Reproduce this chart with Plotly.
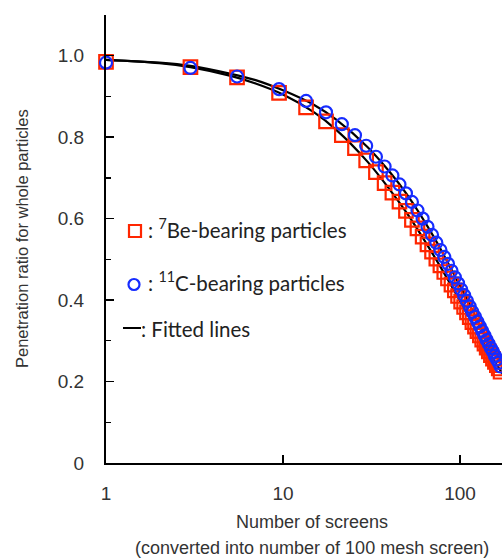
import plotly.graph_objects as go

# Number of screens (converted into number of 100 mesh screen)
screens = [1, 3, 5.5, 9.5, 13.5, 17.5, 21.5, 25.5, 29.5, 33.5, 37.5, 41.5, 45.5,
           49.5, 53.5, 57.5, 61.5, 65.5, 69.5, 73.5, 77.5, 81.5, 85.5, 89.5, 93.5,
           97.5, 101.5, 105.5, 109.5, 113.5, 117.5, 121.5, 125.5, 129.5, 133.5,
           137.5, 141.5, 145.5, 149.5, 153.5, 157.5, 161.5, 165.5, 169.5]

# 7Be-bearing particles
be_ratio = [0.985, 0.972, 0.947, 0.909, 0.873, 0.839, 0.805, 0.773, 0.743, 0.714,
            0.687, 0.664, 0.642, 0.619, 0.597, 0.576, 0.556, 0.537, 0.519, 0.502,
            0.485, 0.469, 0.453, 0.438, 0.424, 0.410, 0.396, 0.383, 0.370, 0.358,
            0.346, 0.335, 0.324, 0.313, 0.303, 0.293, 0.283, 0.274, 0.265, 0.256,
            0.248, 0.240, 0.232, 0.224]

# 11C-bearing particles
c_ratio = [0.983, 0.970, 0.949, 0.918, 0.889, 0.861, 0.832, 0.805, 0.779, 0.752,
           0.728, 0.706, 0.684, 0.662, 0.641, 0.620, 0.600, 0.580, 0.560, 0.541,
           0.523, 0.506, 0.489, 0.472, 0.456, 0.441, 0.426, 0.412, 0.398, 0.384,
           0.371, 0.359, 0.347, 0.335, 0.324, 0.313, 0.302, 0.292, 0.282, 0.273,
           0.263, 0.254, 0.246, 0.237]

# Fitted lines
fit_x = [1, 2, 3, 5, 7, 10, 15, 20, 30, 40, 50, 70, 100, 130, 175]
fit_be = [0.990, 0.982, 0.972, 0.951, 0.932, 0.905, 0.861, 0.818, 0.740, 0.672,
          0.614, 0.514, 0.398, 0.308, 0.217]
fit_c = [0.990, 0.983, 0.975, 0.956, 0.940, 0.915, 0.879, 0.843, 0.776, 0.715,
         0.660, 0.560, 0.435, 0.337, 0.234]

y_ticks = [0, 0.2, 0.4, 0.6, 0.8, 1.0]
y_ticktext = ["0", "0.2", "0.4", "0.6", "0.8", "1.0"]
x_ticks = [1, 10, 100]
x_ticktext = ["1", "10", "100"]

RED = "rgb(255,38,0)"
BLUE = "rgb(22,44,255)"
TICKFONT = dict(family="Liberation Sans, Arial, sans-serif", size=19, color="#333333")
TITLEFONT = dict(family="Liberation Sans, Arial, sans-serif", size=18, color="#333333")

fig = go.Figure()
for fy in (fit_be, fit_c):
    fig.add_trace(go.Scatter(x=fit_x, y=fy, mode="lines",
                             line=dict(color="black", width=2.2, shape="spline"),
                             showlegend=False, hoverinfo="skip"))
fig.add_trace(go.Scatter(x=screens, y=be_ratio, mode="markers",
                         marker=dict(symbol="square-open", size=13.5, color=RED,
                                     line=dict(width=2.2, color=RED)),
                         showlegend=False, cliponaxis=False))
fig.add_trace(go.Scatter(x=screens, y=c_ratio, mode="markers",
                         marker=dict(symbol="circle-open", size=12, color=BLUE,
                                     line=dict(width=2.2, color=BLUE)),
                         showlegend=False, cliponaxis=False))

L, T, B = 106, 15, 95
W, H = 502, 558
PW = W - L
PH = H - T - B


def px(xp):
    return (xp - L) / PW


def py(yp):
    return (H - B - yp) / PH


LEGFONT = dict(family="Lato, Carlito, sans-serif", size=20.5, color="#222222")
shapes = [
    dict(type="rect", xref="paper", yref="paper", x0=px(129), x1=px(141),
         y0=py(237), y1=py(225), line=dict(color=RED, width=2.2)),
    dict(type="circle", xref="paper", yref="paper", x0=px(128.5), x1=px(139.5),
         y0=py(290), y1=py(279), line=dict(color=BLUE, width=2.2)),
    dict(type="line", xref="paper", yref="paper", x0=px(123), x1=px(141),
         y0=py(328), y1=py(328), line=dict(color="black", width=2)),
]
annotations = [
    dict(text=": <sup>7</sup>Be-bearing particles", x=px(146), y=py(228), xref="paper",
         yref="paper", xanchor="left", yanchor="middle", showarrow=False, font=LEGFONT),
    dict(text=": <sup>11</sup>C-bearing particles", x=px(146), y=py(281), xref="paper",
         yref="paper", xanchor="left", yanchor="middle", showarrow=False, font=LEGFONT),
    dict(text=": Fitted lines", x=px(139), y=py(329), xref="paper",
         yref="paper", xanchor="left", yanchor="middle", showarrow=False, font=LEGFONT),
    dict(text="Number of screens", x=px(312), y=py(522), xref="paper", yref="paper",
         xanchor="center", yanchor="middle", showarrow=False, font=TITLEFONT),
    dict(text="(converted into number of 100 mesh screen)", x=px(312), y=py(548),
         xref="paper", yref="paper", xanchor="center", yanchor="middle",
         showarrow=False, font=TITLEFONT),
    dict(text="Penetration ratio for whole particles", x=px(22), y=py(239),
         xref="paper", yref="paper", xanchor="center", yanchor="middle",
         textangle=-90, showarrow=False, font=dict(TITLEFONT, size=16.5)),
]

fig.update_layout(
    width=W, height=H, margin=dict(l=L, r=0, t=T, b=B),
    paper_bgcolor="white", plot_bgcolor="white",
    shapes=shapes, annotations=annotations,
    xaxis=dict(type="log", range=[0, PW / 177.0], showgrid=False, zeroline=False,
               showline=True, linecolor="black", linewidth=2,
               tickmode="array", tickvals=x_ticks, ticktext=x_ticktext,
               ticks="inside", ticklen=8, tickwidth=1.5, tickcolor="black",
               tickfont=TICKFONT, ticklabelstandoff=12),
    yaxis=dict(range=[0, 1.1], showgrid=False, zeroline=False,
               showline=True, linecolor="black", linewidth=2,
               tickmode="array", tickvals=y_ticks, ticktext=y_ticktext,
               ticks="inside", ticklen=8, tickwidth=1.5, tickcolor="black",
               tickfont=TICKFONT, ticklabelstandoff=16,
               minor=dict(ticks="inside", ticklen=5, tickwidth=1.2, tickcolor="black",
                          tickvals=[0.1, 0.3, 0.5, 0.7, 0.9])),
)

fig.write_html("out.html",
               config={"displayModeBar": False, "staticPlot": True},
               post_script="document.body.style.margin='0';"
                           "document.body.style.overflow='hidden';")
